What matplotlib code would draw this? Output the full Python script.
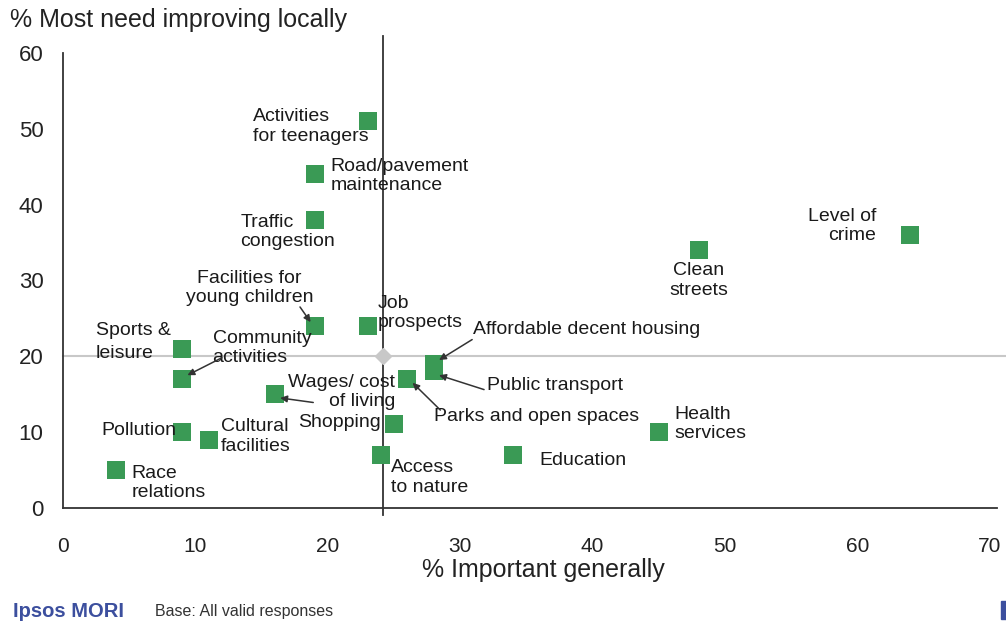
import matplotlib.pyplot as plt
from matplotlib.patches import Rectangle

plt.rcParams['font.family'] = ['Liberation Sans', 'DejaVu Sans']

# Data
labels = ['Activities for teenagers', 'Road/pavement maintenance', 'Traffic congestion',
          'Level of crime', 'Clean streets', 'Facilities for young children', 'Job prospects',
          'Sports & leisure', 'Community activities', 'Affordable decent housing',
          'Public transport', 'Parks and open spaces', 'Wages/ cost of living', 'Shopping',
          'Health services', 'Pollution', 'Cultural facilities', 'Education',
          'Access to nature', 'Race relations']
important = [23, 19, 19, 64, 48, 19, 23, 9, 9, 28, 28, 26, 16, 25, 45, 9, 11, 34, 24, 4]
improving = [51, 44, 38, 36, 34, 24, 24, 21, 17, 19, 18, 17, 15, 11, 10, 10, 9, 7, 7, 5]

x_ticks = [0, 10, 20, 30, 40, 50, 60, 70]
y_ticks = [0, 10, 20, 30, 40, 50, 60]
mean_x = 24.2
mean_y = 20

# label text, text position, alignment, arrow or not
label_text = {
    'Activities for teenagers': ('Activities\nfor teenagers', (14.35, 50.3), 'left', False),
    'Road/pavement maintenance': ('Road/pavement\nmaintenance', (20.2, 43.8), 'left', False),
    'Traffic congestion': ('Traffic\ncongestion', (13.4, 36.4), 'left', False),
    'Level of crime': ('Level of\ncrime', (61.4, 37.2), 'right', False),
    'Clean streets': ('Clean\nstreets', (48, 30.0), 'center', False),
    'Facilities for young children': ('Facilities for\nyoung children', (14.1, 29.0), 'center', True),
    'Job prospects': ('Job\nprospects', (23.8, 25.7), 'left', False),
    'Sports & leisure': ('Sports &\nleisure', (2.5, 21.9), 'left', False),
    'Community activities': ('Community\nactivities', (11.3, 21.1), 'left', True),
    'Affordable decent housing': ('Affordable decent housing', (31.0, 23.5), 'left', True),
    'Public transport': ('Public transport', (32.0, 16.2), 'left', True),
    'Parks and open spaces': ('Parks and open spaces', (28.0, 12.1), 'left', True),
    'Wages/ cost of living': ('Wages/ cost\nof living', (25.1, 15.3), 'right', True),
    'Shopping': ('Shopping', (24.0, 11.2), 'right', False),
    'Health services': ('Health\nservices', (46.2, 11.1), 'left', False),
    'Pollution': ('Pollution', (8.6, 10.2), 'right', False),
    'Cultural facilities': ('Cultural\nfacilities', (11.9, 9.4), 'left', False),
    'Education': ('Education', (36.0, 6.2), 'left', False),
    'Access to nature': ('Access\nto nature', (24.8, 4.0), 'left', False),
    'Race relations': ('Race\nrelations', (5.2, 3.3), 'left', False),
}

# arrow tail positions for labels that have arrows
arrow_tail = {
    'Facilities for young children': (17.9, 26.5),
    'Community activities': (12.0, 19.8),
    'Affordable decent housing': (30.9, 22.2),
    'Public transport': (31.8, 15.6),
    'Parks and open spaces': (28.5, 12.9),
    'Wages/ cost of living': (18.9, 13.9),
}

fig = plt.figure(figsize=(10.06, 6.27), dpi=100)
ax = fig.add_axes([0.0626, 0.19, 0.928, 0.7255])

green = '#3a9a55'

ax.plot([0, 71.5], [mean_y, mean_y], color='#c8c8c8', lw=1.5, clip_on=False, zorder=1)
ax.plot([mean_x, mean_x], [-0.9, 62.3], color='#333333', lw=1.3, clip_on=False, zorder=1)
ax.plot([mean_x], [mean_y], marker='D', color='#c8c8c8', markersize=8, zorder=2)

ax.scatter(important, improving, marker='s', s=150, color=green, zorder=3, linewidths=0)

for name, xv, yv in zip(labels, important, improving):
    txt, pos, ha, arrow = label_text[name]
    ls = 1.5 if name == 'Sports & leisure' else 1.17
    ax.text(pos[0], pos[1], txt, ha=ha, va='center', fontsize=14,
            linespacing=ls, color='#1a1a1a', zorder=4)
    if arrow:
        tail = arrow_tail[name]
        ax.annotate('', xy=(xv + (0.4 if xv < tail[0] else -0.3), yv + (0.5 if yv < tail[1] else -0.5)),
                    xytext=tail,
                    arrowprops=dict(arrowstyle='-|>', color='#333333', lw=1.1,
                                    mutation_scale=10, shrinkA=0, shrinkB=0), zorder=4)

ax.set_xlim(0, 70.5)
ax.set_ylim(0, 60)
ax.set_xticks(x_ticks)
ax.set_yticks(y_ticks)
ax.tick_params(length=0)
ax.tick_params(axis='y', labelsize=16, pad=14, labelcolor='#222222')
ax.tick_params(axis='x', labelsize=15, pad=21, labelcolor='#222222')
for side in ['top', 'right']:
    ax.spines[side].set_visible(False)
for side in ['left', 'bottom']:
    ax.spines[side].set_color('#333333')
    ax.spines[side].set_linewidth(1.3)

fig.text(0.010, 0.968, '% Most need improving locally', fontsize=18, color='#222222', va='center')
fig.text(0.540, 0.091, '% Important generally', fontsize=18, color='#222222', ha='center', va='center')

fig.text(0.013, 0.025, 'Ipsos MORI', fontsize=14.5, fontweight='bold', color='#3c4f9e', va='center')
fig.text(0.154, 0.025, 'Base: All valid responses', fontsize=11.5, color='#333333', va='center')
fig.patches.append(Rectangle((0.9955, 0.012), 0.006, 0.03, transform=fig.transFigure,
                             color='#3c4f9e', figure=fig))

plt.savefig('out.png', dpi=100)
plt.close()
